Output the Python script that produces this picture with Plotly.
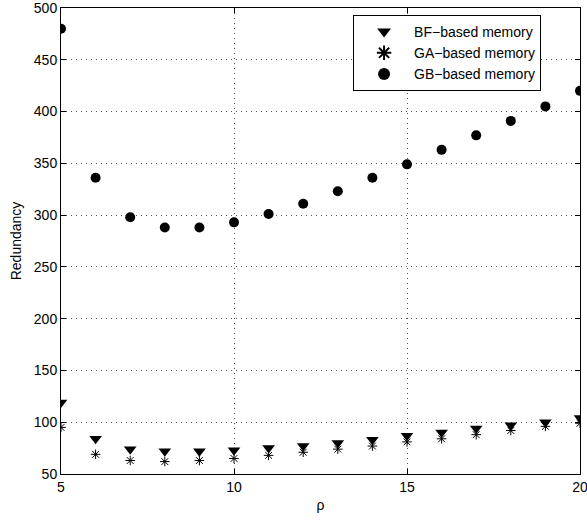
import plotly.graph_objects as go

rho = list(range(5, 21))
bf = [119, 84, 74, 72, 72, 73, 75, 77, 80, 83, 87, 90, 94, 97, 100, 104]
ga = [95, 69, 63, 62, 63, 65, 68, 71, 74, 77, 81, 84, 88, 92, 96, 99]
gb = [480, 336, 298, 288, 288, 293, 301, 311, 323, 336, 349, 363, 377, 391, 405, 420]

names = ["BF\u2212based memory", "GA\u2212based memory", "GB\u2212based memory"]
FONT = "Liberation Sans, Arial, Helvetica, sans-serif"

fig = go.Figure()
fig.add_trace(go.Scatter(x=rho, y=bf, mode="markers", name=names[0],
                         marker=dict(symbol="triangle-down", size=11, color="black")))
fig.add_trace(go.Scatter(x=rho, y=ga, mode="markers", name=names[1],
                         marker=dict(symbol="asterisk-open", size=8, color="black",
                                     line=dict(color="black", width=1))))
fig.add_trace(go.Scatter(x=rho, y=gb, mode="markers", name=names[2],
                         marker=dict(symbol="circle", size=10, color="black")))

axis_common = dict(showline=True, linecolor="black", linewidth=1, mirror="ticks",
                   ticks="inside", ticklen=5, tickcolor="black",
                   showgrid=True, gridcolor="#555555", griddash="1px,4px", gridwidth=1,
                   zeroline=False, ticklabeloverflow="allow", automargin=False,
                   tickfont=dict(size=14, color="black", family=FONT))

fig.update_xaxes(range=[5, 20], tickvals=[5, 10, 15, 20],
                 title=dict(text="\u03c1", font=dict(size=14, color="black", family=FONT), standoff=6),
                 **axis_common)
fig.update_yaxes(range=[50, 500], tickvals=list(range(50, 501, 50)),
                 title=dict(text="Redundancy", font=dict(size=14, color="black", family=FONT), standoff=8),
                 **axis_common)

fig.update_layout(
    width=587, height=522,
    margin=dict(l=61, r=7, t=8, b=48),
    plot_bgcolor="white", paper_bgcolor="white",
    font=dict(family=FONT, color="black"),
    showlegend=True,
    legend=dict(x=0.925, y=0.985, xanchor="right", yanchor="top",
                bgcolor="white", bordercolor="black", borderwidth=1,
                font=dict(size=14, family=FONT, color="black"),
                itemsizing="constant", itemwidth=50, tracegroupgap=0),
)

fig.write_html("out.html")
